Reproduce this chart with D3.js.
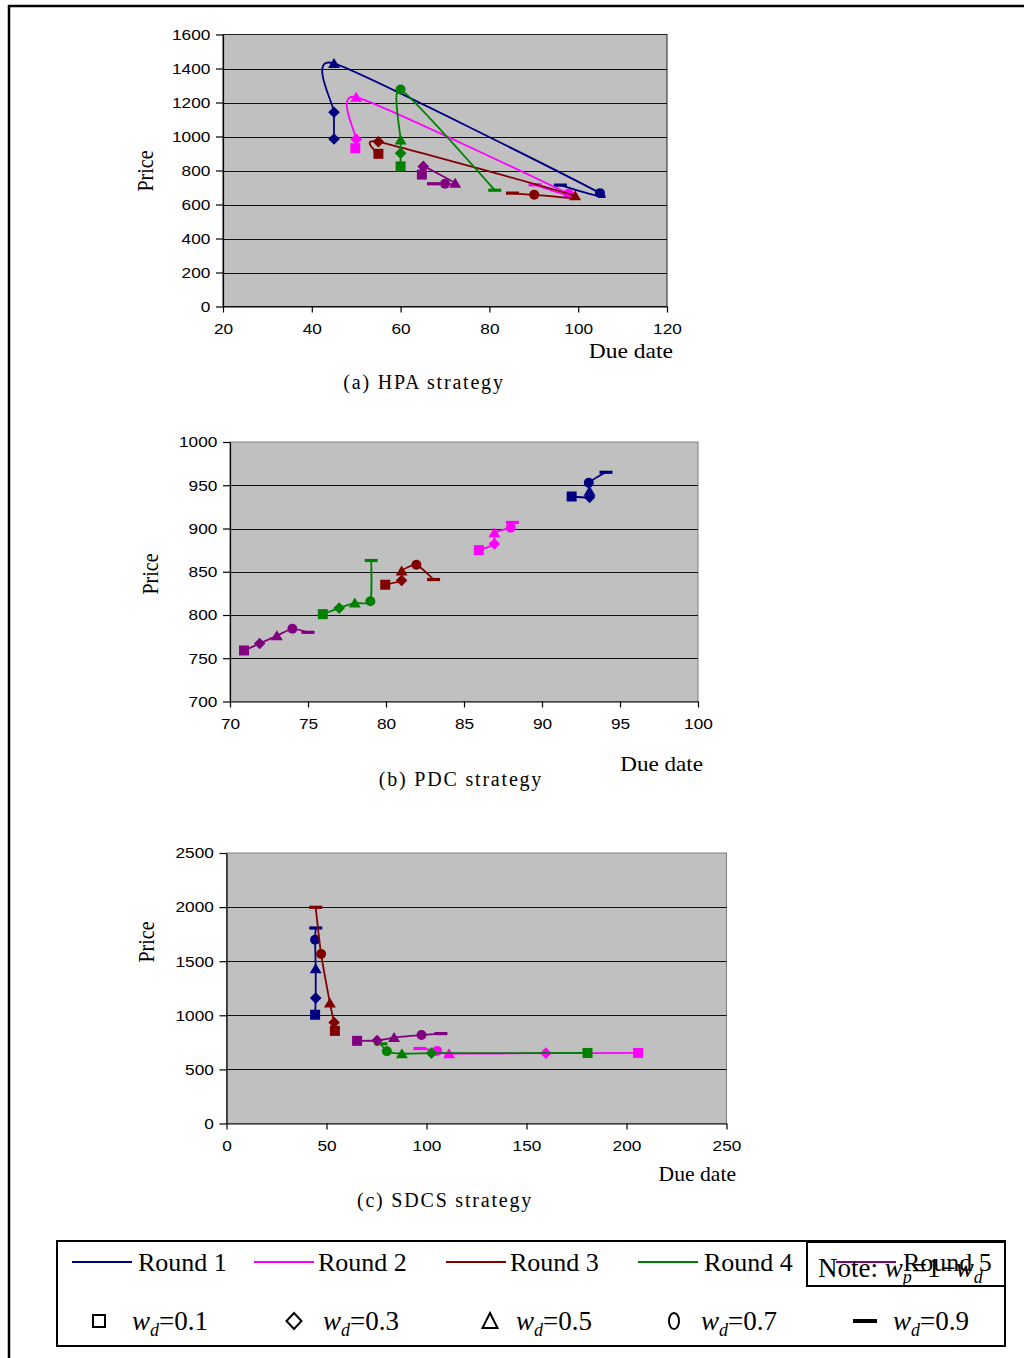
<!DOCTYPE html>
<html lang="en">
<head>
	<meta charset="UTF-8">
	<title>Price and due date by round</title>
	<style>
		body { margin: 0; background: #fff; }
		svg { display: block; }
	</style>
</head>
<body>
	<script src="https://cdn.jsdelivr.net/npm/d3@7/dist/d3.min.js"></script>

	<script type="text/javascript">

		// rounds and marker meaning (w_d values)
		var roundNames = ["Round 1", "Round 2", "Round 3", "Round 4", "Round 5"];
		var roundColors = ["#000080", "#ff00ff", "#800000", "#008000", "#800080"];
		var weightLabels = ["0.1", "0.3", "0.5", "0.7", "0.9"];
		var markerShapes = ["square", "diamond", "triangle", "circle", "dash"];
		// in (a) the first point of round 1 is drawn with a diamond
		var hpaRound1Shapes = ["diamond", "diamond", "triangle", "circle", "dash"];

		// (a) HPA strategy : one row per round, one column per w_d
		var hpaDueDate = [
			[45, 45, 45, 104.9, 96],
			[49.8, 50, 50, 97.8, 90.3],
			[55, 55, 99.3, 90.1, 85.2],
			[60, 60, 60, 60, 81.2],
			[64.8, 65.1, 72.3, 70, 67.4]
		];
		var hpaPrice = [
			[985, 1143, 1430, 667, 714],
			[931, 984, 1231, 663, 716],
			[898, 969, 651, 657, 667],
			[824, 902, 980, 1276, 684],
			[776, 824, 725, 722, 722]
		];
		var hpaXTicks = [20, 40, 60, 80, 100, 120];
		var hpaYTicks = [0, 200, 400, 600, 800, 1000, 1200, 1400, 1600];

		// (b) PDC strategy
		var pdcDueDate = [
			[91.9, 93.05, 93.05, 93, 94.1],
			[85.95, 86.95, 86.95, 88, 88.1],
			[79.95, 81, 81, 81.95, 83.05],
			[75.95, 77, 78, 79, 79.05],
			[70.9, 71.9, 73, 74, 75]
		];
		var pdcPrice = [
			[937, 936, 943, 953, 965],
			[875, 882, 895, 901, 907],
			[835, 840, 851, 858, 841],
			[801, 808, 814, 816, 863],
			[759, 767, 776, 784, 780]
		];
		var pdcXTicks = [70, 75, 80, 85, 90, 95, 100];
		var pdcYTicks = [700, 750, 800, 850, 900, 950, 1000];

		// (c) SDCS strategy
		var sdcsDueDate = [
			[44.3, 44.6, 44.6, 44.3, 44.6],
			[205.8, 159.7, 111.3, 105.3, 96.7],
			[54.2, 53.8, 51.7, 47.3, 44.6],
			[180.5, 102.5, 87.7, 80.2, 77.2],
			[65.3, 75.3, 83.8, 97.5, 107.2]
		];
		var sdcsPrice = [
			[1005, 1159, 1430, 1699, 1807],
			[652, 650, 645, 671, 693],
			[856, 933, 1113, 1567, 1998],
			[652, 650, 645, 668, 736],
			[764, 767, 794, 817, 831]
		];
		var sdcsXTicks = [0, 50, 100, 150, 200, 250];
		var sdcsYTicks = [0, 500, 1000, 1500, 2000, 2500];

		var width = 1024;
		var height = 1358;
		var serif = "'Liberation Serif', 'Times New Roman', serif";
		var sans = "'Liberation Sans', Arial, sans-serif";

		var svg = d3.select("body")
					.append("svg")
					.attr("width", width)
					.attr("height", height);

		// page frame (only top and left edges are inside the picture)
		svg.append("path")
			.attr("d", "M9,1360V6H1026")
			.attr("fill", "none")
			.attr("stroke", "#000")
			.attr("stroke-width", 2.5);

		// chart texts are slightly stretched sideways, like the pasted charts
		function addText(parent, str, x, y, size, opts) {
			opts = opts || {};
			var sx = opts.sx || 1;
			var t = parent.append("text")
				.attr("transform", "translate(" + x + "," + y + ")" +
					(opts.rotate ? " rotate(-90) scale(1," + sx + ")" : " scale(" + sx + ",1)"))
				.attr("font-family", opts.family || serif)
				.attr("font-size", size + "px")
				.attr("text-anchor", opts.anchor || "start")
				.attr("fill", "#000")
				.text(str);
			if (opts.spacing) t.attr("letter-spacing", opts.spacing);
			return t;
		}

		function markerPath(shape) {
			if (shape === "square") return "M-5,-5H5V5H-5Z";
			if (shape === "diamond") return "M0,-5.8L5.8,0L0,5.8L-5.8,0Z";
			if (shape === "triangle") return "M0,-5.5L6,4.5H-6Z";
			if (shape === "circle") return d3.symbol(d3.symbolCircle, 78)();
			return "M-6.5,-1.6H6.5V1.6H-6.5Z";
		}

		var panels = [
			{ xs: hpaDueDate, ys: hpaPrice, xTicks: hpaXTicks, yTicks: hpaYTicks,
			  shapes: [hpaRound1Shapes, markerShapes, markerShapes, markerShapes, markerShapes],
			  left: 223, right: 667, top: 34.5, bottom: 306.5, frame: "#222",
			  caption: "(a) HPA strategy", capX: 424, capY: 389,
			  dueX: 673, dueY: 358, dueSx: 1.12, priceX: 146, priceY: 171 },
			{ xs: pdcDueDate, ys: pdcPrice, xTicks: pdcXTicks, yTicks: pdcYTicks,
			  shapes: [markerShapes, markerShapes, markerShapes, markerShapes, markerShapes],
			  left: 230, right: 698, top: 442, bottom: 701.5, frame: "#808080",
			  caption: "(b) PDC strategy", capX: 461, capY: 786,
			  dueX: 703, dueY: 771, dueSx: 1.1, priceX: 151, priceY: 574 },
			{ xs: sdcsDueDate, ys: sdcsPrice, xTicks: sdcsXTicks, yTicks: sdcsYTicks,
			  shapes: [markerShapes, markerShapes, markerShapes, markerShapes, markerShapes],
			  left: 226.5, right: 726.5, top: 853, bottom: 1123.5, frame: "#808080",
			  caption: "(c) SDCS strategy", capX: 445, capY: 1207,
			  dueX: 736, dueY: 1181, dueSx: 1.03, priceX: 147, priceY: 942 }
		];

		panels.forEach(function(p) {
			var x = d3.scaleLinear()
					.domain([p.xTicks[0], p.xTicks[p.xTicks.length - 1]])
					.range([p.left, p.right]);
			var y = d3.scaleLinear()
					.domain([p.yTicks[0], p.yTicks[p.yTicks.length - 1]])
					.range([p.bottom, p.top]);

			var g = svg.append("g");

			// grey plot area
			g.append("rect")
				.attr("x", p.left)
				.attr("y", p.top)
				.attr("width", p.right - p.left)
				.attr("height", p.bottom - p.top)
				.attr("fill", "#c0c0c0")
				.attr("stroke", p.frame)
				.attr("stroke-width", 1);

			// horizontal grid lines
			g.selectAll("line.grid")
				.data(p.yTicks.slice(1, -1))
				.enter()
				.append("line")
				.attr("class", "grid")
				.attr("x1", p.left)
				.attr("x2", p.right)
				.attr("y1", function(d) { return Math.round(y(d)) + 0.5; })
				.attr("y2", function(d) { return Math.round(y(d)) + 0.5; })
				.attr("stroke", "#111")
				.attr("stroke-width", 1);

			var fmt = d3.format("d");
			var xAxis = g.append("g")
				.attr("transform", "translate(0," + p.bottom + ")")
				.call(d3.axisBottom(x).tickValues(p.xTicks).tickFormat(fmt)
					.tickSize(6).tickPadding(11).tickSizeOuter(0));
			var yAxis = g.append("g")
				.attr("transform", "translate(" + p.left + ",0)")
				.call(d3.axisLeft(y).tickValues(p.yTicks).tickFormat(fmt)
					.tickSize(7).tickPadding(4).tickSizeOuter(0));

			[xAxis, yAxis].forEach(function(a) {
				a.selectAll("path, line").attr("stroke", "#000").attr("stroke-width", 1.2);
				a.selectAll("text")
					.attr("font-family", sans)
					.attr("font-size", "15px")
					.attr("fill", "#000")
					.attr("transform", "scale(1.15,1)");
			});

			// one smoothed line plus markers per round
			var line = d3.line()
					.x(function(d) { return x(d[0]); })
					.y(function(d) { return y(d[1]); })
					.curve(d3.curveCardinal.tension(0.4));

			p.xs.forEach(function(row, r) {
				var pts = row.map(function(v, i) { return [v, p.ys[r][i], p.shapes[r][i]]; });

				g.append("path")
					.attr("d", line(pts))
					.attr("fill", "none")
					.attr("stroke", roundColors[r])
					.attr("stroke-width", 1.8);

				g.selectAll("path.m" + r)
					.data(pts)
					.enter()
					.append("path")
					.attr("class", "m" + r)
					.attr("d", function(d) { return markerPath(d[2]); })
					.attr("transform", function(d) { return "translate(" + x(d[0]) + "," + y(d[1]) + ")"; })
					.attr("fill", roundColors[r]);
			});

			// axis titles and caption
			addText(g, "Price", p.priceX + 7, p.priceY, 20, { anchor: "middle", rotate: true, sx: 1.15 });
			addText(g, "Due date", p.dueX, p.dueY, 21, { anchor: "end", sx: p.dueSx });
			addText(g, p.caption, p.capX, p.capY, 20, { anchor: "middle", spacing: "1.8px" });
		});

		// legend box
		var legend = svg.append("g");
		legend.append("rect")
			.attr("x", 57).attr("y", 1241)
			.attr("width", 948).attr("height", 105)
			.attr("fill", "#fff")
			.attr("stroke", "#000")
			.attr("stroke-width", 2);

		var roundLineX = [72, 254, 446, 638, 836];
		var roundTextX = [138, 318, 510, 704, 903];
		roundNames.forEach(function(name, i) {
			legend.append("line")
				.attr("x1", roundLineX[i]).attr("x2", roundLineX[i] + 60)
				.attr("y1", 1262).attr("y2", 1262)
				.attr("stroke", roundColors[i])
				.attr("stroke-width", 2);
			addText(legend, name, roundTextX[i], 1271, 26);
		});

		// w_d markers, drawn hollow in black
		var weightMarkX = [99, 294, 490, 674, 865];
		var weightTextX = [132, 323, 516, 701, 893];
		var hollow = {
			square: "M-6,-6H6V6H-6Z",
			diamond: "M0,-8L7.5,0L0,8L-7.5,0Z",
			triangle: "M0,-8L7.5,7H-7.5Z",
			circle: "M0,-8A5,8 0 1,1 0,8A5,8 0 1,1 0,-8Z",
			dash: "M-12,-2H12V2H-12Z"
		};
		markerShapes.forEach(function(s, i) {
			legend.append("path")
				.attr("d", hollow[s])
				.attr("transform", "translate(" + weightMarkX[i] + "," + 1321 + ")")
				.attr("fill", s === "dash" ? "#000" : "none")
				.attr("stroke", "#000")
				.attr("stroke-width", s === "dash" ? 0 : 2);

			var t = legend.append("text")
				.attr("x", weightTextX[i]).attr("y", 1330)
				.attr("font-family", serif)
				.attr("font-size", "27px")
				.attr("fill", "#000");
			t.append("tspan").attr("font-style", "italic").text("w");
			t.append("tspan").attr("font-style", "italic").attr("font-size", "18px").attr("dy", 6).text("d");
			t.append("tspan").attr("dy", -6).text("=" + weightLabels[i]);
		});

		// note box, overlapping the last legend entry
		legend.append("rect")
			.attr("x", 807).attr("y", 1242)
			.attr("width", 198).attr("height", 44)
			.attr("fill", "none")
			.attr("stroke", "#000")
			.attr("stroke-width", 2);
		var note = legend.append("text")
			.attr("x", 818).attr("y", 1277)
			.attr("font-family", serif)
			.attr("font-size", "27px")
			.attr("fill", "#000");
		note.append("tspan").text("Note: ");
		note.append("tspan").attr("font-style", "italic").text("w");
		note.append("tspan").attr("font-style", "italic").attr("font-size", "18px").attr("dy", 6).text("p");
		note.append("tspan").attr("dy", -6).text("=1\u2212");
		note.append("tspan").attr("font-style", "italic").text("w");
		note.append("tspan").attr("font-style", "italic").attr("font-size", "18px").attr("dy", 6).text("d");

	</script>
</body>
</html>
